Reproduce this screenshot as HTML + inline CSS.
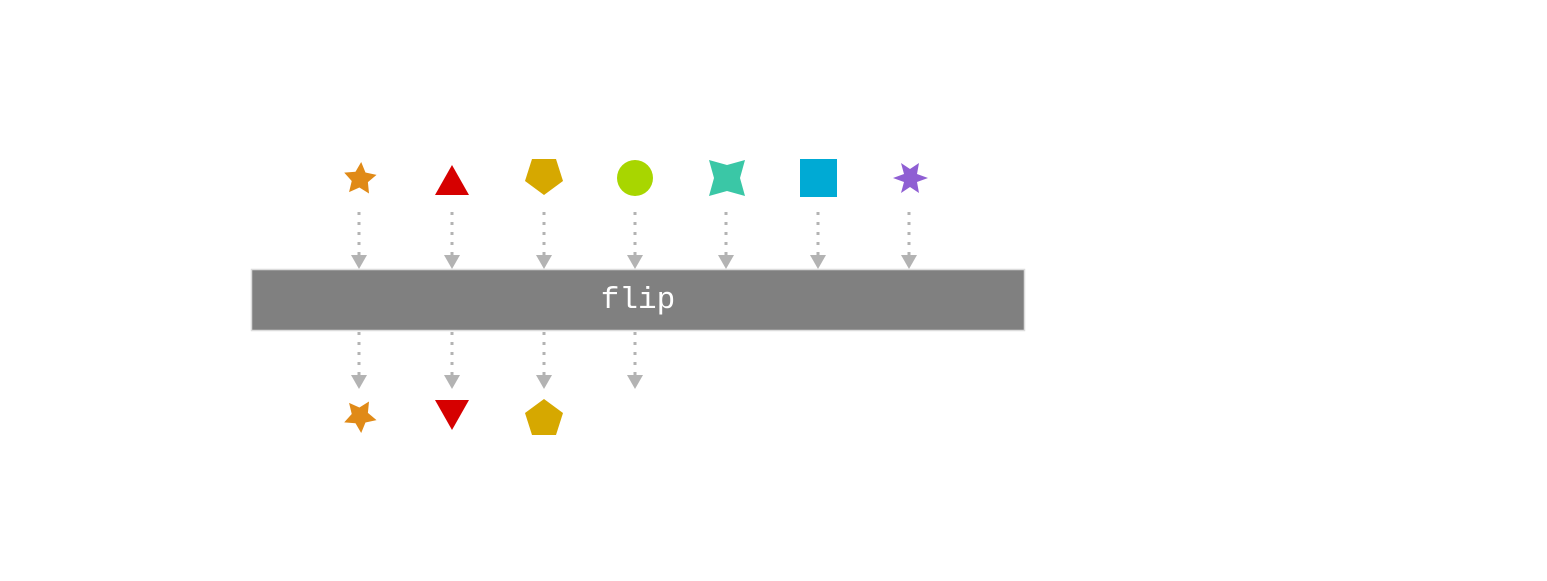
<!DOCTYPE html>
<html><head><meta charset="utf-8"><style>
html,body{margin:0;padding:0;background:#fff;}
svg{display:block;}
</style></head><body>
<svg width="1547" height="581" viewBox="0 0 1547 581" xmlns="http://www.w3.org/2000/svg">
<defs>
<polygon id="star5" points="0,-17 5,-6.9 16.2,-5.3 8.1,2.6 10,13.8 0,8.5 -10,13.8 -8.1,2.6 -16.2,-5.3 -5,-6.9"/>
</defs>
<use href="#star5" fill="#e08a17" transform="translate(360,179) rotate(4)"/>
<polygon points="452,165 435,195 469,195" fill="#d60000"/>
<polygon points="532,159 556,159 563,181 544,195 525,181" fill="#d6a800"/>
<circle cx="635" cy="178" r="18" fill="#a8d600"/>
<polygon points="709,160 727,165 745,160 740,178 745,196 727,191 709,196 714,178" fill="#3ac7a6"/>
<rect x="800" y="159" width="37" height="38" fill="#00aad4"/>
<polygon points="893,178 904,174 901,163 910,169 919,163 917,174 928,178 917,182 919,193 910,187 901,193 904,182" fill="#8f5fd3"/>
<g stroke="#b3b3b3" stroke-width="3" stroke-dasharray="3,7">
<line x1="359" y1="212" x2="359" y2="256"/><line x1="452" y1="212" x2="452" y2="256"/>
<line x1="544" y1="212" x2="544" y2="256"/><line x1="635" y1="212" x2="635" y2="256"/>
<line x1="726" y1="212" x2="726" y2="256"/><line x1="818" y1="212" x2="818" y2="256"/>
<line x1="909" y1="212" x2="909" y2="256"/>
<line x1="359" y1="332" x2="359" y2="376"/><line x1="452" y1="332" x2="452" y2="376"/>
<line x1="544" y1="332" x2="544" y2="376"/><line x1="635" y1="332" x2="635" y2="376"/>
</g>
<g fill="#b3b3b3">
<polygon points="351,255 367,255 359,269"/><polygon points="444,255 460,255 452,269"/>
<polygon points="536,255 552,255 544,269"/><polygon points="627,255 643,255 635,269"/>
<polygon points="718,255 734,255 726,269"/><polygon points="810,255 826,255 818,269"/>
<polygon points="901,255 917,255 909,269"/>
<polygon points="351,375 367,375 359,389"/><polygon points="444,375 460,375 452,389"/>
<polygon points="536,375 552,375 544,389"/><polygon points="627,375 643,375 635,389"/>
</g>
<rect x="251.5" y="269.5" width="773" height="61" fill="#808080" stroke="#dcdcdc" stroke-width="1.5"/>
<text x="638" y="308" text-anchor="middle" font-family="Liberation Mono, monospace" font-size="31" fill="#fff">flip</text>
<use href="#star5" fill="#e08a17" transform="translate(360,416) scale(1,-1) rotate(4)"/>
<polygon points="435,400 469,400 452,430" fill="#d60000"/>
<polygon points="532,435 556,435 563,413 544,399 525,413" fill="#d6a800"/>
</svg>
</body></html>
